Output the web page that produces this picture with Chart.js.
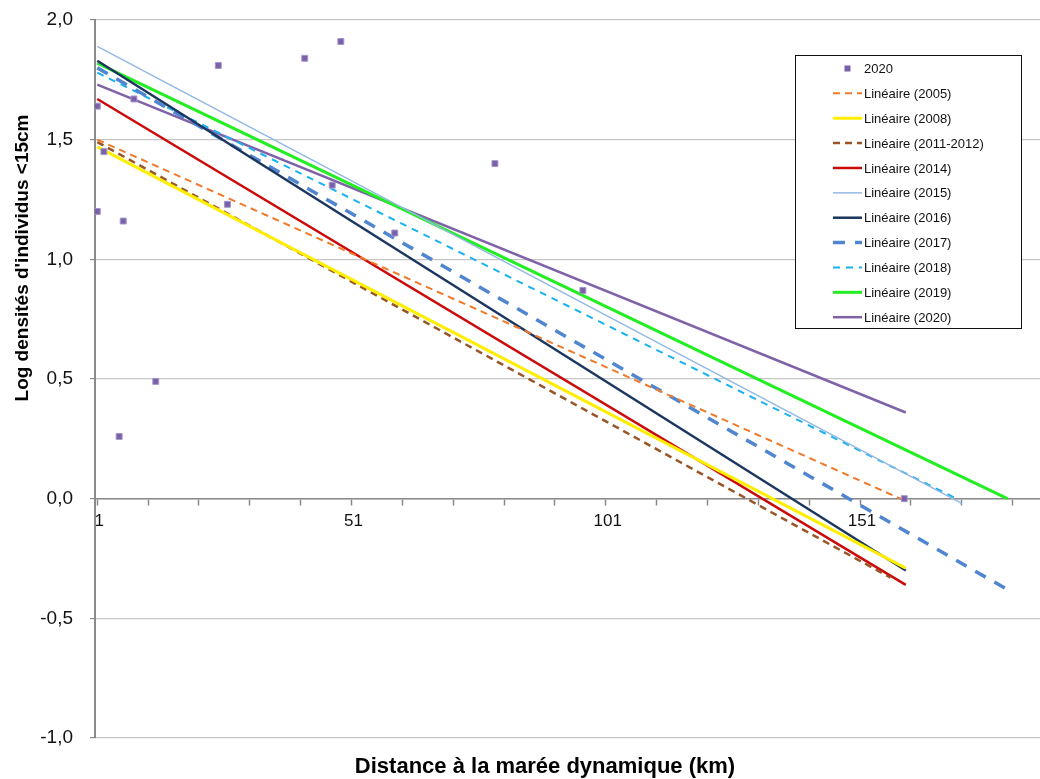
<!DOCTYPE html>
<html>
<head>
<meta charset="utf-8">
<script src="https://cdn.jsdelivr.net/npm/chart.js@4/dist/chart.umd.min.js"></script>
<style>
  html, body { margin: 0; padding: 0; background: #fff; }
  #wrap { width: 1040px; height: 779px; }
</style>
</head>
<body>
<div id="wrap"><canvas id="densites" width="1040" height="779"></canvas></div>
<script>
// 2020 sampling points: distance (km) and log density
const pointsDistance = [1, 1, 2.3, 5.3, 6.1, 8.2, 12.5, 24.8, 26.6, 41.8, 47.2, 48.9, 59.5, 79.2, 96.5, 159.7];
const pointsLogDensity = [1.64, 1.20, 1.45, 0.26, 1.16, 1.67, 0.49, 1.81, 1.23, 1.84, 1.31, 1.91, 1.11, 1.40, 0.87, 0.00];

// linear trendlines, one per survey year (start and end of each fitted line)
const trendYears = ['2005', '2008', '2011-2012', '2014', '2015', '2016', '2017', '2018', '2019', '2020'];
const trendStartKm = [1, 1, 1, 1, 1, 1, 1, 1, 1, 1];
const trendEndKm = [160, 160, 157, 160, 171, 160, 180, 170, 180, 160];
const trendStartLog = [1.50, 1.47, 1.49, 1.67, 1.89, 1.83, 1.80, 1.78, 1.82, 1.73];
const trendEndLog = [-0.01, -0.29, -0.33, -0.36, -0.02, -0.30, -0.38, 0.00, 0.00, 0.36];

const xTickLabels = ['1', '51', '101', '151'];

const trendStyles = {
  '2005':      { color: '#f07a2a', width: 2,   dash: [7, 5] },
  '2008':      { color: '#ffee00', width: 3,   dash: [] },
  '2011-2012': { color: '#9a5526', width: 2.5, dash: [7, 5] },
  '2014':      { color: '#cc0a0a', width: 2.5, dash: [] },
  '2015':      { color: '#93b8e4', width: 1.5, dash: [] },
  '2016':      { color: '#1b365f', width: 2.5, dash: [] },
  '2017':      { color: '#4f86cf', width: 3.5, dash: [12, 10] },
  '2018':      { color: '#1ab2ee', width: 2,   dash: [7, 6] },
  '2019':      { color: '#22ee22', width: 3,   dash: [] },
  '2020':      { color: '#7f62a8', width: 2.5, dash: [] }
};

const datasets = [{
  label: '2020',
  data: pointsDistance.map((d, i) => ({ x: d, y: pointsLogDensity[i] })),
  showLine: false,
  pointStyle: 'rect',
  pointRadius: 4.2,
  pointHoverRadius: 4.2,
  backgroundColor: '#7a60a8',
  borderColor: '#a496cc',
  borderWidth: 1
}];

trendYears.forEach((year, i) => {
  const st = trendStyles[year];
  datasets.push({
    label: 'Linéaire (' + year + ')',
    data: [{ x: trendStartKm[i], y: trendStartLog[i] }, { x: trendEndKm[i], y: trendEndLog[i] }],
    showLine: true,
    borderColor: st.color,
    borderWidth: st.width,
    borderDash: st.dash,
    borderCapStyle: 'butt',
    pointRadius: 0,
    pointHoverRadius: 0,
    fill: false
  });
});

// axis titles and the boxed legend are painted by hand
const decorations = {
  id: 'decorations',
  afterDraw(chart) {
    const ctx = chart.ctx;
    ctx.save();
    ctx.fillStyle = '#000';
    ctx.font = 'bold 22px "Liberation Sans", Arial, sans-serif';
    ctx.textAlign = 'center';
    ctx.textBaseline = 'middle';
    ctx.fillText('Distance à la marée dynamique (km)', 545, 767);

    ctx.translate(23, 258);
    ctx.rotate(-Math.PI / 2);
    ctx.font = 'bold 19px "Liberation Sans", Arial, sans-serif';
    ctx.fillText("Log densités d'individus <15cm", 0, 0);
    ctx.restore();

    // legend
    const box = { left: 795.5, top: 55.5, width: 226, height: 273 };
    ctx.save();
    ctx.fillStyle = '#fff';
    ctx.fillRect(box.left, box.top, box.width, box.height);
    ctx.strokeStyle = '#111';
    ctx.lineWidth = 1;
    ctx.strokeRect(box.left, box.top, box.width, box.height);
    ctx.font = '13px "Liberation Sans", Arial, sans-serif';
    ctx.textBaseline = 'middle';
    ctx.textAlign = 'left';
    chart.data.datasets.forEach((ds, i) => {
      const y = 68.5 + i * 24.87;
      if (ds.showLine) {
        ctx.strokeStyle = ds.borderColor;
        ctx.lineWidth = ds.borderWidth;
        ctx.setLineDash(ds.borderDash || []);
        ctx.beginPath();
        ctx.moveTo(833, y);
        ctx.lineTo(862, y);
        ctx.stroke();
        ctx.setLineDash([]);
      } else {
        ctx.fillStyle = ds.backgroundColor;
        ctx.fillRect(844.5, y - 3, 6, 6);
      }
      ctx.fillStyle = '#111';
      ctx.fillText(ds.label, 864, y + 1);
    });
    ctx.restore();
  }
};

new Chart(document.getElementById('densites'), {
  type: 'scatter',
  data: { datasets: datasets },
  options: {
    responsive: false,
    animation: false,
    layout: { autoPadding: false, padding: { top: 20, bottom: 41, left: 0, right: 0 } },
    plugins: {
      legend: { display: false },
      tooltip: { enabled: false }
    },
    scales: {
      x: {
        type: 'linear',
        position: { y: 0 },
        min: 0.55,
        max: 186.4,
        afterBuildTicks(scale) {
          const ticks = [];
          for (let v = 1; v <= 181; v += 10) ticks.push({ value: v });
          scale.ticks = ticks;
        },
        afterFit(scale) {
          scale.paddingLeft = 0;
          scale.paddingRight = 0;
        },
        grid: { drawOnChartArea: false, drawTicks: true, tickLength: 6, tickColor: '#8a8a8a', tickWidth: 1.5 },
        border: { display: true, color: '#8a8a8a', width: 1.5 },
        ticks: {
          autoSkip: false,
          maxRotation: 0,
          padding: 6,
          labelOffset: 2,
          color: '#111',
          font: { family: '"Liberation Sans", Arial, sans-serif', size: 17 },
          callback: v => xTickLabels.includes(String(v)) ? String(v) : ''
        }
      },
      y: {
        min: -1,
        max: 2,
        afterFit(scale) {
          scale.width = 95;
          scale.paddingTop = 0;
          scale.paddingBottom = 0;
        },
        grid: { color: '#c6c6c6', lineWidth: 1.2, tickLength: 5, tickColor: '#8a8a8a' },
        border: { display: true, color: '#8a8a8a', width: 2 },
        ticks: {
          stepSize: 0.5,
          padding: 17,
          color: '#111',
          font: { family: '"Liberation Sans", Arial, sans-serif', size: 19 },
          callback: v => v.toFixed(1).replace('.', ',')
        }
      }
    }
  },
  plugins: [decorations]
});
</script>
</body>
</html>
